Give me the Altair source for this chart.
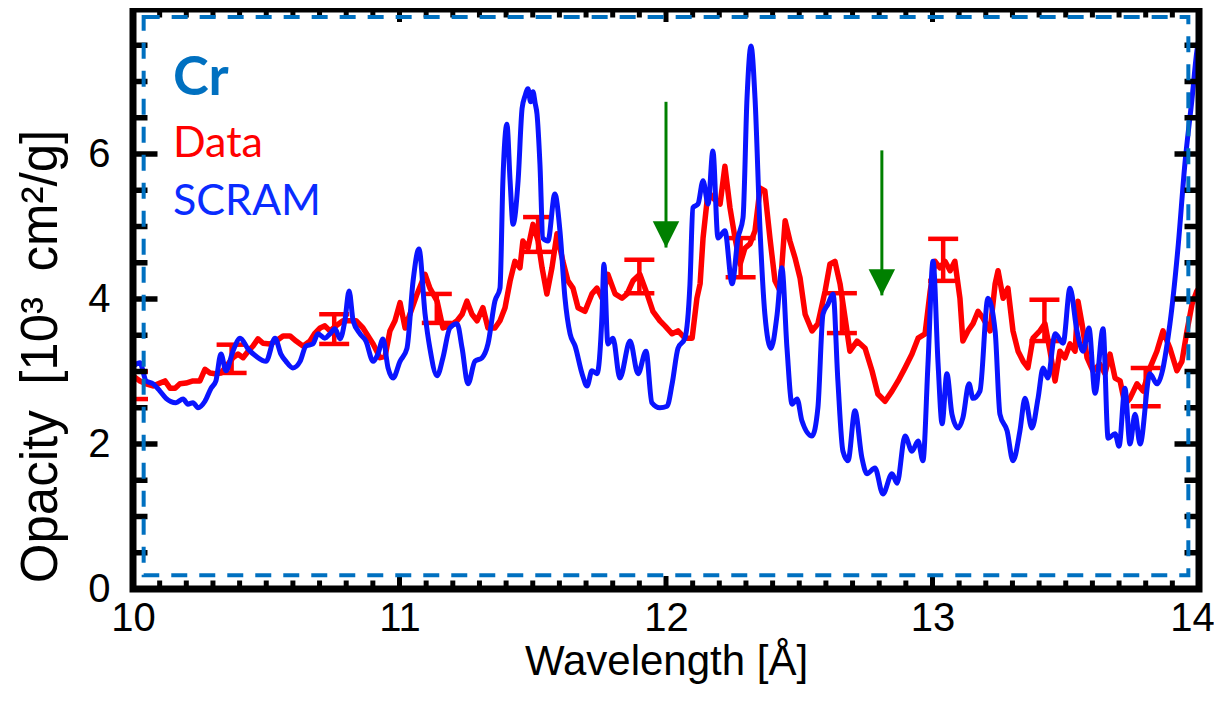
import altair as alt
import pandas as pd

# ---------------- data ----------------
# SCRAM calculation (blue)
scram_wl = [10.000, 10.026, 10.049, 10.075, 10.101, 10.124, 10.161, 10.188, 10.206, 10.225,
            10.244, 10.270, 10.293, 10.311, 10.330, 10.349, 10.375, 10.402, 10.432, 10.462,
            10.499, 10.533, 10.555, 10.574, 10.600, 10.627, 10.649, 10.675, 10.694, 10.720,
            10.739, 10.758, 10.777, 10.795, 10.811, 10.826, 10.852, 10.874, 10.901, 10.919,
            10.938, 10.957, 10.976, 11.002, 11.028, 11.051, 11.073, 11.096, 11.114, 11.141,
            11.163, 11.189, 11.216, 11.235, 11.257, 11.283, 11.310, 11.332, 11.358, 11.377,
            11.388, 11.403, 11.415, 11.426, 11.445, 11.460, 11.471, 11.482, 11.492, 11.501,
            11.509, 11.516, 11.527, 11.538, 11.557, 11.583, 11.602, 11.621, 11.640, 11.659,
            11.685, 11.704, 11.722, 11.741, 11.760, 11.767, 11.782, 11.801, 11.827, 11.865,
            11.895, 11.925, 11.947, 11.977, 12.004, 12.023, 12.045, 12.071, 12.090, 12.101,
            12.120, 12.139, 12.158, 12.176, 12.195, 12.221, 12.248, 12.270, 12.289, 12.304,
            12.319, 12.334, 12.353, 12.371, 12.394, 12.417, 12.435, 12.454, 12.473, 12.492,
            12.510, 12.548, 12.570, 12.589, 12.608, 12.627, 12.645, 12.664, 12.683, 12.709,
            12.735, 12.754, 12.784, 12.814, 12.848, 12.867, 12.897, 12.923, 12.946, 12.964,
            12.983, 13.002, 13.021, 13.036, 13.054, 13.073, 13.096, 13.114, 13.137, 13.152,
            13.178, 13.208, 13.235, 13.253, 13.280, 13.302, 13.328, 13.347, 13.373, 13.396,
            13.415, 13.433, 13.460, 13.490, 13.516, 13.542, 13.565, 13.587, 13.610, 13.640,
            13.659, 13.685, 13.700, 13.722, 13.741, 13.760, 13.779, 13.816, 13.842, 13.891,
            13.921, 13.947, 13.974, 13.992, 14.000]
scram_op = [3.07, 3.12, 2.87, 2.83, 2.73, 2.63, 2.57, 2.62, 2.55, 2.57,
            2.50, 2.59, 2.77, 2.87, 3.24, 3.01, 3.28, 3.46, 3.31, 3.21,
            3.14, 3.46, 3.24, 3.14, 3.05, 3.14, 3.35, 3.38, 3.52, 3.46,
            3.52, 3.59, 3.45, 3.70, 4.11, 3.70, 3.52, 3.42, 3.14, 3.24,
            3.45, 3.05, 2.91, 3.14, 3.32, 4.25, 4.69, 3.79, 3.32, 2.94,
            3.19, 3.60, 3.66, 3.32, 2.83, 3.14, 3.19, 3.38, 3.97, 4.15,
            5.63, 6.41, 5.63, 5.03, 5.63, 6.63, 6.80, 6.90, 6.72, 6.86,
            6.70, 6.55, 5.86, 4.84, 4.80, 5.45, 4.94, 4.01, 3.52, 3.35,
            2.97, 2.80, 3.01, 2.97, 3.79, 4.48, 3.38, 3.46, 2.91, 3.42,
            2.97, 3.28, 2.57, 2.50, 2.52, 2.83, 3.32, 3.46, 4.21, 5.26,
            5.31, 5.63, 5.31, 6.04, 4.84, 4.94, 4.21, 4.84, 5.12, 6.77,
            7.49, 6.77, 4.94, 3.79, 3.32, 3.79, 4.43, 3.32, 2.55, 2.62,
            2.32, 2.11, 2.50, 3.79, 3.93, 4.07, 2.87, 1.90, 1.77, 2.46,
            1.81, 1.59, 1.67, 1.31, 1.59, 1.46, 2.11, 1.90, 2.04, 1.77,
            3.10, 4.52, 3.10, 2.28, 2.97, 2.41, 2.22, 2.36, 2.83, 2.63,
            2.73, 4.01, 3.56, 2.41, 2.18, 1.77, 2.18, 2.63, 2.22, 2.63,
            3.05, 2.91, 3.52, 3.39, 4.15, 3.56, 3.28, 3.60, 2.70, 3.59,
            2.08, 2.14, 1.97, 2.77, 2.00, 2.41, 2.00, 2.97, 2.83, 3.66,
            4.70, 5.86, 6.77, 7.42, 7.60]

# Measured data (red)
data_wl = [10.000, 10.026, 10.049, 10.075, 10.101, 10.120, 10.139, 10.158, 10.176, 10.199,
           10.225, 10.251, 10.270, 10.289, 10.308, 10.330, 10.356, 10.375, 10.394, 10.413,
           10.432, 10.450, 10.469, 10.488, 10.514, 10.537, 10.563, 10.589, 10.612, 10.638,
           10.664, 10.683, 10.702, 10.720, 10.739, 10.762, 10.788, 10.814, 10.837, 10.863,
           10.882, 10.901, 10.927, 10.946, 10.964, 10.983, 11.002, 11.021, 11.039, 11.066,
           11.096, 11.114, 11.141, 11.163, 11.189, 11.216, 11.235, 11.253, 11.272, 11.291,
           11.313, 11.332, 11.358, 11.377, 11.396, 11.415, 11.433, 11.452, 11.463, 11.482,
           11.501, 11.520, 11.535, 11.553, 11.572, 11.591, 11.613, 11.632, 11.651, 11.670,
           11.696, 11.722, 11.741, 11.760, 11.782, 11.809, 11.835, 11.854, 11.876, 11.902,
           11.929, 11.951, 11.977, 11.996, 12.023, 12.045, 12.071, 12.098, 12.116, 12.128,
           12.139, 12.158, 12.176, 12.203, 12.221, 12.240, 12.259, 12.278, 12.296, 12.315,
           12.334, 12.353, 12.371, 12.390, 12.409, 12.428, 12.447, 12.465, 12.484, 12.503,
           12.522, 12.548, 12.570, 12.597, 12.615, 12.634, 12.653, 12.672, 12.690, 12.717,
           12.747, 12.773, 12.795, 12.822, 12.848, 12.871, 12.897, 12.923, 12.946, 12.972,
           12.991, 13.009, 13.028, 13.047, 13.066, 13.084, 13.103, 13.114, 13.133, 13.152,
           13.171, 13.189, 13.216, 13.235, 13.246, 13.265, 13.283, 13.302, 13.321, 13.340,
           13.358, 13.377, 13.403, 13.422, 13.441, 13.460, 13.478, 13.497, 13.516, 13.535,
           13.546, 13.561, 13.580, 13.602, 13.628, 13.647, 13.666, 13.685, 13.704, 13.722,
           13.741, 13.767, 13.790, 13.816, 13.842, 13.865, 13.891, 13.917, 13.936, 13.955,
           13.974, 13.992, 14.000]
data_op = [2.94, 2.87, 2.83, 2.80, 2.84, 2.87, 2.77, 2.77, 2.83, 2.84,
           2.87, 2.87, 3.03, 2.98, 2.97, 2.98, 3.10, 3.19, 3.24, 3.19,
           3.28, 3.35, 3.45, 3.39, 3.38, 3.42, 3.49, 3.49, 3.42, 3.35,
           3.42, 3.53, 3.60, 3.63, 3.56, 3.63, 3.70, 3.70, 3.70, 3.60,
           3.49, 3.38, 3.19, 3.21, 3.56, 3.70, 3.95, 3.60, 3.79, 4.07,
           4.34, 4.15, 3.97, 3.60, 3.63, 3.70, 3.79, 3.97, 3.79, 3.70,
           3.88, 3.60, 3.60, 3.70, 3.88, 4.25, 4.52, 4.43, 4.80, 4.70,
           5.03, 4.80, 4.43, 4.07, 4.43, 4.90, 4.52, 4.25, 4.15, 3.88,
           3.83, 4.07, 4.15, 4.01, 4.34, 4.07, 4.01, 4.07, 4.25, 4.34,
           4.07, 3.83, 3.70, 3.63, 3.52, 3.56, 3.46, 3.46, 4.01, 4.21,
           4.84, 5.49, 5.39, 5.31, 5.83, 5.26, 4.84, 4.48, 4.70, 4.76,
           4.94, 5.53, 5.49, 4.84, 4.25, 4.11, 5.08, 4.80, 4.57, 4.29,
           3.79, 3.56, 3.66, 4.11, 4.48, 4.52, 4.21, 3.74, 3.28, 3.42,
           3.32, 3.01, 2.69, 2.59, 2.73, 2.87, 3.05, 3.24, 3.46, 3.52,
           4.10, 4.52, 4.43, 4.52, 4.39, 4.52, 4.01, 3.42, 3.56, 3.66,
           3.83, 3.74, 3.56, 4.21, 4.39, 4.01, 4.15, 3.56, 3.28, 3.14,
           3.05, 3.46, 3.56, 3.66, 3.28, 2.87, 3.28, 3.19, 3.38, 3.28,
           3.97, 3.66, 3.19, 3.01, 3.10, 2.97, 3.24, 2.91, 2.87, 2.55,
           2.63, 2.83, 2.73, 3.05, 3.28, 3.56, 3.32, 3.01, 3.14, 3.56,
           3.93, 4.11, 4.15]

# Error bars on the data
eb_wl = [10.00, 10.37, 10.755, 11.14, 11.52, 11.90, 12.28, 12.66, 13.04, 13.42, 13.80]
eb_lo = [2.62, 2.98, 3.38, 3.67, 4.65, 4.08, 4.30, 3.53, 4.25, 3.42, 2.52]
eb_hi = [3.00, 3.37, 3.79, 4.07, 5.13, 4.54, 4.84, 4.08, 4.83, 3.99, 3.05]

# Green arrows
arrow_wl = [12.00, 12.81]
arrow_top = [6.72, 6.05]
arrow_tip = [4.71, 4.05]

# Legend-like labels
label_text = ["Cr", "Data", "SCRAM"]
label_wl = [10.15, 10.15, 10.15]
label_op = [6.82, 5.96, 5.16]
label_color = ["#0070c0", "#ff0000", "#0a2cff"]

# inner dashed box (data units)
box_x = [10.04, 13.96]
box_y = [0.19, 7.89]

# axis ticks
x_major = [10, 11, 12, 13, 14]
x_minor = [round(10 + i / 10, 1) for i in range(1, 40) if i % 10 != 0]
y_major = [0, 2, 4, 6, 8]
y_minor = [0.5, 1, 1.5, 2.5, 3, 3.5, 4.5, 5, 5.5, 6.5, 7, 7.5]
y_labels = [0, 2, 4, 6]

# marks of a neighbouring panel peeking above the frame
crop_wl = [11.16, 12.92]

# ---------------- chart ----------------
AXFONT = "Liberation Sans"
LEGFONT = "Lato"
RED = "#ff0000"
BLUE = "#0a14ff"
GREEN = "#008000"

xs = alt.Scale(domain=[10, 14], nice=False, zero=False)
ys = alt.Scale(domain=[0, 8], nice=False, zero=False)

xaxis = alt.Axis(values=x_major, format="d", title="Wavelength [Å]", grid=False, domain=False,
                 ticks=False, labelFont=AXFONT, labelFontSize=40, labelColor="black",
                 labelPadding=41, labelBaseline="alphabetic", labelFlush=False, labelOverlap=False,
                 labelOffset=alt.condition("datum.value == 14", alt.value(-7), alt.value(0)),
                 titleFont=AXFONT, titleFontSize=42, titleFontWeight="normal", titleColor="black",
                 titleY=85, titleBaseline="alphabetic")
yaxis = alt.Axis(values=y_labels, format="d", title="Opacity\u2002[10³\u2002cm²/g]", grid=False,
                 domain=False, ticks=False, labelFont=AXFONT, labelFontSize=40, labelColor="black",
                 labelPadding=23, labelFlush=False, labelOverlap=False,
                 titleFont=AXFONT, titleFontSize=51, titleFontWeight="normal", titleColor="black",
                 titleAngle=270, titleX=-77, titleY=347, titleAlign="center",
                 titleBaseline="alphabetic")

red_df = pd.DataFrame({"wl": data_wl, "op": data_op})
blue_df = pd.DataFrame({"wl": scram_wl, "op": scram_op})
eb_df = pd.DataFrame({"wl": eb_wl, "lo": eb_lo, "hi": eb_hi})
arr_df = pd.DataFrame({"wl": arrow_wl, "top": arrow_top, "tip": arrow_tip})
lab_df = pd.DataFrame({"t": label_text, "wl": label_wl, "op": label_op, "c": label_color})
box_df = pd.DataFrame({"x1": [box_x[0]], "x2": [box_x[1]], "y1": [box_y[0]], "y2": [box_y[1]]})
frame_df = pd.DataFrame({"x1": [10], "x2": [14], "y1": [0], "y2": [8]})

xt_rows = []
for edge in (0, 8):
    xt_rows += [{"v": v, "edge": edge, "sz": 26} for v in x_major]
    xt_rows += [{"v": v, "edge": edge, "sz": 17} for v in x_minor]
yt_rows = []
for edge in (10, 14):
    yt_rows += [{"v": v, "edge": edge, "sz": 49} for v in y_major]
    yt_rows += [{"v": v, "edge": edge, "sz": 29} for v in y_minor]
xt_df = pd.DataFrame(xt_rows)
yt_df = pd.DataFrame(yt_rows)
crop_df = pd.DataFrame({"wl": crop_wl})


# every layer carries the same axis definition so that the shared axes merge cleanly
def X(f):
    return alt.X(f, scale=xs, axis=xaxis)


def Y(f):
    return alt.Y(f, scale=ys, axis=yaxis)


red_line = alt.Chart(red_df).mark_line(color=RED, strokeWidth=5.5, clip=True,
                                       strokeJoin="round").encode(
    x=X("wl:Q"), y=Y("op:Q"))

eb_bar = alt.Chart(eb_df).mark_rule(color=RED, strokeWidth=4.5, clip=True).encode(
    x=X("wl:Q"), y=Y("lo:Q"), y2="hi:Q")
eb_cap_lo = alt.Chart(eb_df).mark_tick(color=RED, orient="horizontal", size=30, thickness=4.5,
                                       clip=True, opacity=1).encode(x=X("wl:Q"), y=Y("lo:Q"))
eb_cap_hi = alt.Chart(eb_df).mark_tick(color=RED, orient="horizontal", size=30, thickness=4.5,
                                       clip=True, opacity=1).encode(x=X("wl:Q"), y=Y("hi:Q"))

blue_line = alt.Chart(blue_df).mark_line(color=BLUE, strokeWidth=5, clip=True,
                                         interpolate="monotone", strokeJoin="round").encode(
    x=X("wl:Q"), y=Y("op:Q"))

shaft = alt.Chart(arr_df).mark_rule(color=GREEN, strokeWidth=3).encode(
    x=X("wl:Q"), y=Y("top:Q"), y2="tip:Q")
head = alt.Chart(arr_df).mark_point(shape="M-1,-1L1,-1L0,1Z", size=700, filled=True,
                                    color=GREEN, opacity=1, strokeWidth=0, yOffset=-13).encode(
    x=X("wl:Q"), y=Y("tip:Q"))

xticks = alt.Chart(xt_df).mark_tick(color="black", orient="vertical", thickness=5, clip=True,
                                    opacity=1).encode(
    x=X("v:Q"), y=Y("edge:Q"), size=alt.Size("sz:Q", scale=None, legend=None))
yticks = alt.Chart(yt_df).mark_tick(color="black", orient="horizontal", thickness=5.5, clip=True,
                                    opacity=1).encode(
    y=Y("v:Q"), x=X("edge:Q"), size=alt.Size("sz:Q", scale=None, legend=None))

dashed_box = alt.Chart(box_df).mark_rect(filled=False, color="#0070c0", strokeWidth=4,
                                         strokeDash=[16, 12]).encode(
    x=X("x1:Q"), x2="x2:Q", y=Y("y1:Q"), y2="y2:Q")

frame = alt.Chart(frame_df).mark_rect(filled=False, color="black", strokeWidth=7).encode(
    x=X("x1:Q"), x2="x2:Q", y=Y("y1:Q"), y2="y2:Q")

title_cr = alt.Chart(lab_df.iloc[[0]]).mark_text(font=LEGFONT, fontSize=54, fontWeight="bold",
                                                 align="left", baseline="alphabetic").encode(
    x=X("wl:Q"), y=Y("op:Q"), text="t:N", color=alt.Color("c:N", scale=None, legend=None))
legend_txt = alt.Chart(lab_df.iloc[[1, 2]]).mark_text(font=LEGFONT, fontSize=43,
                                                      align="left", baseline="alphabetic").encode(
    x=X("wl:Q"), y=Y("op:Q"), text="t:N", color=alt.Color("c:N", scale=None, legend=None))

crop_marks = alt.Chart(crop_df).mark_rule(color="black", strokeWidth=1.5).encode(
    x=X("wl:Q"), y=alt.value(-9), y2=alt.value(-4))

chart = alt.layer(
    red_line, eb_bar, eb_cap_lo, eb_cap_hi, blue_line, shaft, head,
    xticks, yticks, dashed_box, frame, title_cr, legend_txt, crop_marks
).properties(
    width=1066, height=580,
    autosize=alt.AutoSizeParams(type="none"),
    padding={"left": 125, "top": 1, "right": 15, "bottom": 96},
    background="white",
).configure_view(stroke="transparent")

chart.save("out.html", embed_options={"renderer": "svg", "actions": False})
